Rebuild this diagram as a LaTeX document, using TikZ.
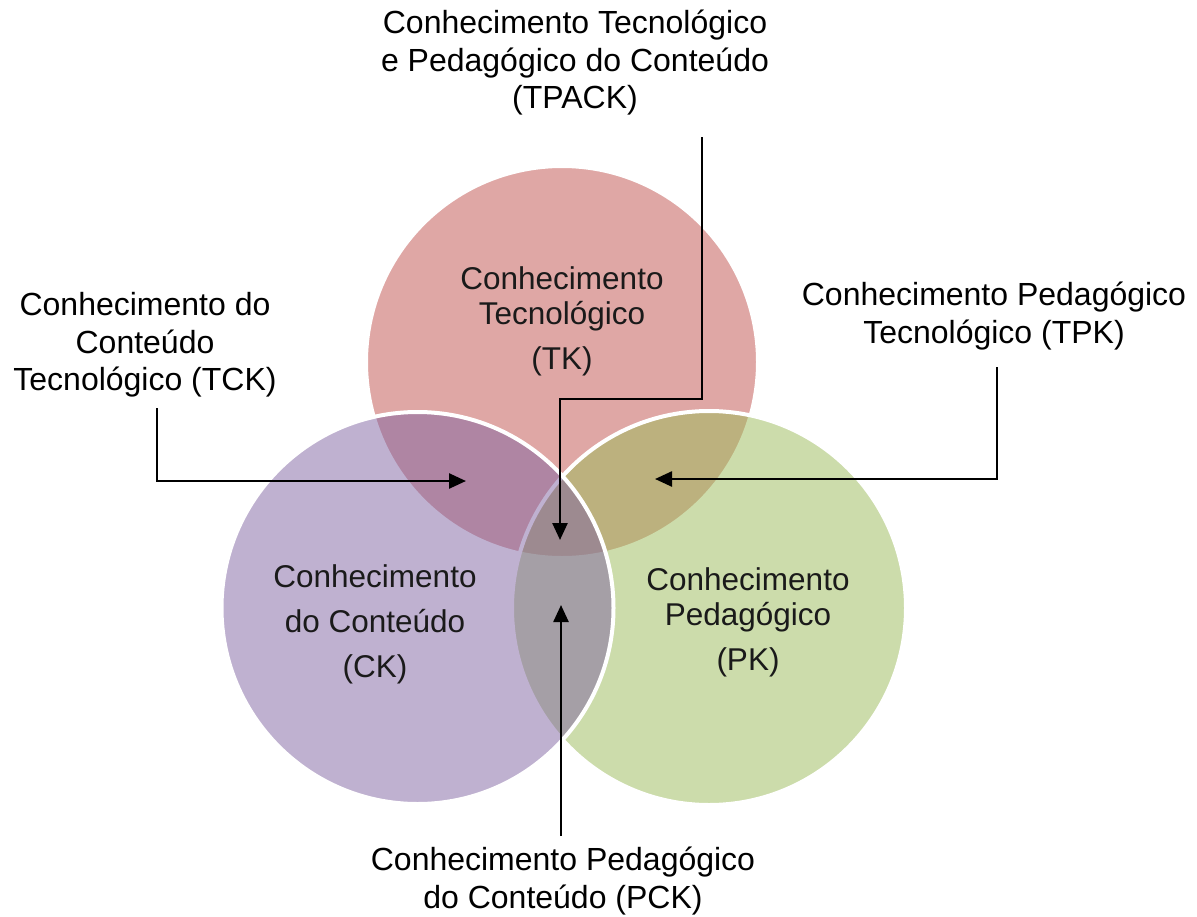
\documentclass[tikz,border=0pt]{standalone}
\usepackage{fontspec}
\setmainfont{Liberation Sans}
\usetikzlibrary{arrows.meta}
\definecolor{tkc}{HTML}{C0504D}
\definecolor{ckc}{HTML}{8064A2}
\definecolor{pkc}{HTML}{9BBB59}
\definecolor{intext}{HTML}{1A1A1A}
\begin{document}
\begin{tikzpicture}[x=1pt,y=-1pt,
  venn/.style={draw=white, line width=4pt, fill opacity=0.5},
  lbl/.style={align=center, font=\fontsize{32}{37.5}\selectfont, inner sep=0pt},
  inlbl/.style={align=center, text=intext, font=\fontsize{31.5}{35}\selectfont, inner sep=0pt},
  conn/.style={line width=2.5pt, -{Triangle[length=17pt,width=15pt]}}]
\useasboundingbox (0,0) rectangle (1197,916);
\fill[white] (0,0) rectangle (1197,916);
% circles
\draw[venn, fill=tkc] (562,362) circle (196pt);
\draw[venn, fill=pkc] (709,608) circle (197pt);
\draw[venn, fill=ckc] (417.5,608) circle (196pt);
% inner labels
\node[inlbl] (tk) at (562,321) {Conhecimento\\Tecnológico\\[10pt](TK)};
\node[inlbl] (ck) at (375,624) {Conhecimento\\[10pt]do Conteúdo\\[10pt](CK)};
\node[inlbl] (pk) at (748,622) {Conhecimento\\Pedagógico\\[10pt](PK)};
% outer labels
\node[lbl] (tpack) at (575,63) {Conhecimento Tecnológico\\e Pedagógico do Conteúdo\\(TPACK)};
\node[lbl] (tck) at (145,345) {Conhecimento do\\Conteúdo\\Tecnológico (TCK)};
\node[lbl] (tpk) at (994,316) {Conhecimento Pedagógico\\Tecnológico (TPK)};
\node[lbl] (pck) at (563,881) {Conhecimento Pedagógico\\do Conteúdo (PCK)};
% connector points
\coordinate (tpackA) at (702,137);
\coordinate (tpackB) at (702,399);
\coordinate (tpackC) at (560,399);
\coordinate (tpackTip) at (560,540);
\coordinate (tckA) at (157,408);
\coordinate (tckB) at (157,481);
\coordinate (tckTip) at (466,481);
\coordinate (tpkA) at (997,367);
\coordinate (tpkB) at (997,479);
\coordinate (tpkTip) at (655,479);
\coordinate (pckA) at (561,836);
\coordinate (pckTip) at (561,605);
% connectors
\draw[conn] (tpackA) -- (tpackB) -- (tpackC) -- (tpackTip);
\draw[conn] (tckA) -- (tckB) -- (tckTip);
\draw[conn] (tpkA) -- (tpkB) -- (tpkTip);
\draw[conn] (pckA) -- (pckTip);
\end{tikzpicture}
\end{document}
